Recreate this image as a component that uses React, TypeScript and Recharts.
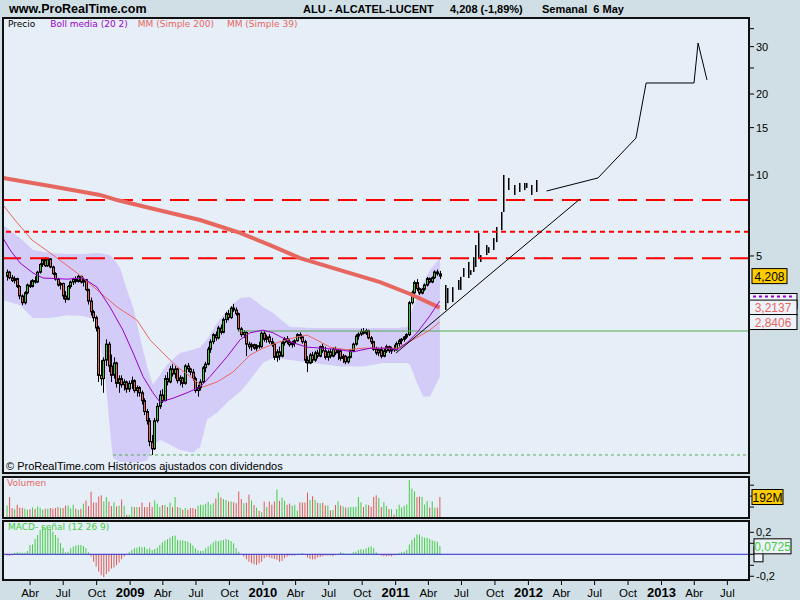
import React from 'react';
import {
  ComposedChart,
  Bar,
  Line,
  Area,
  XAxis,
  YAxis,
  ReferenceLine,
  ReferenceDot,
  Cell,
} from 'recharts';

// weekly candles [open, high, low, close], week 0 = 28 Jan 2008
const ohlc2008 = [
  [4.2, 4.45, 4.05, 4.35], [4.35, 4.4, 4.1, 4.15], [4.15, 4.25, 4.0, 4.05], [4.05, 4.2, 3.95, 4.12],
  [4.12, 4.15, 3.8, 3.85], [3.85, 3.9, 3.45, 3.55], [3.55, 3.6, 3.28, 3.35], [3.35, 3.7, 3.3, 3.65],
  [3.65, 3.95, 3.6, 3.9], [3.9, 4.05, 3.8, 3.85], [3.85, 4.1, 3.82, 4.05], [4.05, 4.2, 3.95, 4.0],
  [4.0, 4.4, 3.98, 4.35], [4.35, 4.7, 4.3, 4.65], [4.65, 4.9, 4.55, 4.85], [4.85, 4.95, 4.55, 4.6],
  [4.6, 4.92, 4.55, 4.88], [4.88, 4.9, 4.5, 4.55], [4.55, 4.6, 4.25, 4.3], [4.3, 4.35, 4.05, 4.1],
  [4.1, 4.15, 3.85, 3.9], [3.9, 4.0, 3.75, 3.95], [3.95, 3.98, 3.45, 3.55], [3.55, 3.7, 3.35, 3.45],
  [3.45, 3.9, 3.42, 3.85], [3.85, 4.05, 3.78, 4.0], [4.0, 4.15, 3.9, 4.1], [4.1, 4.2, 3.95, 4.02],
  [4.02, 4.25, 3.98, 4.2], [4.2, 4.22, 3.95, 4.0], [4.0, 4.15, 3.85, 4.08], [4.08, 4.1, 3.7, 3.75],
  [3.75, 3.78, 3.3, 3.4], [3.4, 3.5, 3.0, 3.1], [3.1, 3.15, 2.85, 2.95], [2.95, 3.0, 2.62, 2.7],
  [2.7, 2.75, 1.7, 1.8], [1.8, 2.05, 1.65, 1.75], [1.75, 2.1, 1.55, 2.05], [2.05, 2.45, 1.95, 2.35],
  [2.35, 2.4, 1.85, 1.95], [1.95, 2.15, 1.7, 1.8], [1.8, 2.1, 1.75, 2.0], [2.0, 2.02, 1.62, 1.68],
  [1.68, 1.8, 1.55, 1.75], [1.75, 1.8, 1.62, 1.66], [1.66, 1.74, 1.58, 1.7], [1.7, 1.72, 1.55, 1.6],
  [1.6, 1.72, 1.56, 1.68],
];
const ohlc2009 = [
  [1.68, 1.78, 1.6, 1.72], [1.72, 1.74, 1.55, 1.58], [1.58, 1.65, 1.5, 1.62], [1.62, 1.64, 1.5, 1.55],
  [1.55, 1.58, 1.4, 1.45], [1.45, 1.48, 1.28, 1.32], [1.32, 1.35, 1.18, 1.22], [1.22, 1.25, 0.98, 1.02],
  [1.02, 1.08, 0.91, 0.96], [0.96, 1.25, 0.95, 1.22], [1.22, 1.42, 1.2, 1.38], [1.38, 1.58, 1.35, 1.52],
  [1.52, 1.6, 1.42, 1.45], [1.45, 1.8, 1.44, 1.75], [1.75, 1.85, 1.65, 1.7], [1.7, 1.95, 1.68, 1.9],
  [1.9, 1.98, 1.78, 1.82], [1.82, 1.95, 1.75, 1.9], [1.9, 1.92, 1.68, 1.72], [1.72, 1.8, 1.65, 1.76],
  [1.76, 1.78, 1.62, 1.68], [1.68, 1.98, 1.66, 1.95], [1.95, 2.0, 1.85, 1.9], [1.9, 1.92, 1.8, 1.85],
  [1.85, 1.9, 1.72, 1.75], [1.75, 1.78, 1.55, 1.58], [1.58, 1.66, 1.5, 1.62], [1.62, 1.74, 1.58, 1.7],
  [1.7, 1.95, 1.68, 1.92], [1.92, 2.02, 1.85, 1.98], [1.98, 2.3, 1.96, 2.25], [2.25, 2.45, 2.18, 2.4],
  [2.4, 2.58, 2.35, 2.55], [2.55, 2.62, 2.42, 2.48], [2.48, 2.75, 2.45, 2.7], [2.7, 2.78, 2.55, 2.6],
  [2.6, 2.95, 2.58, 2.9], [2.9, 3.1, 2.82, 3.05], [3.05, 3.15, 2.88, 2.95], [2.95, 3.25, 2.92, 3.2],
  [3.2, 3.32, 3.1, 3.15], [3.15, 3.22, 3.0, 3.05], [3.05, 3.08, 2.62, 2.68], [2.68, 2.72, 2.5, 2.55],
  [2.55, 2.65, 2.48, 2.6], [2.6, 2.62, 2.12, 2.35], [2.35, 2.4, 2.25, 2.3], [2.3, 2.38, 2.22, 2.34],
  [2.34, 2.36, 2.24, 2.27], [2.27, 2.35, 2.22, 2.32], [2.32, 2.4, 2.26, 2.3], [2.3, 2.62, 2.28, 2.58],
];
const ohlc2010 = [
  [2.58, 2.64, 2.4, 2.45], [2.45, 2.55, 2.38, 2.5], [2.5, 2.56, 2.36, 2.4], [2.4, 2.48, 2.3, 2.35],
  [2.35, 2.38, 2.05, 2.1], [2.1, 2.25, 2.02, 2.2], [2.2, 2.3, 2.05, 2.12], [2.12, 2.42, 2.1, 2.38],
  [2.38, 2.5, 2.32, 2.46], [2.46, 2.52, 2.35, 2.4], [2.4, 2.46, 2.3, 2.34], [2.34, 2.42, 2.28, 2.38],
  [2.38, 2.45, 2.3, 2.42], [2.42, 2.58, 2.4, 2.55], [2.55, 2.6, 2.45, 2.5], [2.5, 2.52, 2.36, 2.4],
  [2.4, 2.44, 2.0, 2.05], [2.05, 2.12, 1.85, 2.0], [2.0, 2.18, 1.98, 2.14], [2.14, 2.2, 2.0, 2.05],
  [2.05, 2.22, 2.02, 2.18], [2.18, 2.24, 2.08, 2.12], [2.12, 2.32, 2.1, 2.3], [2.3, 2.36, 2.18, 2.22],
  [2.22, 2.3, 2.06, 2.1], [2.1, 2.24, 2.04, 2.2], [2.2, 2.26, 2.08, 2.12], [2.12, 2.28, 2.1, 2.25],
  [2.25, 2.3, 2.14, 2.18], [2.18, 2.26, 2.05, 2.22], [2.22, 2.24, 2.04, 2.08], [2.08, 2.16, 2.0, 2.12],
  [2.12, 2.14, 1.98, 2.02], [2.02, 2.12, 1.99, 2.1], [2.1, 2.25, 2.08, 2.22], [2.22, 2.38, 2.2, 2.35],
  [2.35, 2.56, 2.32, 2.52], [2.52, 2.6, 2.44, 2.56], [2.56, 2.68, 2.52, 2.62], [2.62, 2.7, 2.55, 2.58],
  [2.58, 2.68, 2.54, 2.64], [2.64, 2.66, 2.45, 2.48], [2.48, 2.52, 2.35, 2.4], [2.4, 2.42, 2.22, 2.25],
  [2.25, 2.3, 2.14, 2.18], [2.18, 2.28, 2.12, 2.24], [2.24, 2.3, 2.08, 2.12], [2.12, 2.26, 2.1, 2.22],
  [2.22, 2.34, 2.18, 2.3], [2.3, 2.32, 2.18, 2.22], [2.22, 2.3, 2.16, 2.26], [2.26, 2.34, 2.2, 2.24],
];
const ohlc2011 = [
  [2.24, 2.4, 2.22, 2.36], [2.36, 2.46, 2.3, 2.42], [2.42, 2.48, 2.34, 2.45], [2.45, 2.52, 2.4, 2.5],
  [2.5, 2.58, 2.46, 2.55], [2.55, 3.4, 2.52, 3.35], [3.35, 3.72, 3.3, 3.65], [3.65, 4.05, 3.6, 3.98],
  [3.98, 4.1, 3.7, 3.78], [3.78, 3.82, 3.58, 3.64], [3.64, 3.8, 3.6, 3.76], [3.76, 3.95, 3.7, 3.9],
  [3.9, 4.18, 3.85, 4.12], [4.12, 4.16, 3.95, 4.0], [4.0, 4.2, 3.96, 4.15], [4.15, 4.42, 4.1, 4.36],
  [4.36, 4.45, 4.22, 4.29], [4.29, 4.4, 4.1, 4.208],
];

// weekly volume, millions
const vol2008 = [
  115, 191, 91, 79, 121, 94, 94, 85, 76, 79, 97, 82, 106, 94, 76, 85, 85, 91, 85, 91,
  100, 91, 91, 115, 115, 85, 121, 85, 76, 85, 130, 161, 109, 239, 142, 142, 197, 209, 152, 191,
  152, 109, 142, 106, 112, 170, 112, 30, 30,
];
const vol2009 = [
  106, 100, 100, 100, 142, 100, 100, 142, 100, 161, 130, 100, 118, 118, 100, 142, 100, 191, 100, 94,
  76, 91, 76, 91, 91, 82, 112, 121, 121, 130, 148, 121, 136, 179, 233, 188, 173, 164, 152, 152,
  145, 136, 242, 173, 136, 139, 212, 161, 118, 94, 64, 52,
];
const vol2010 = [
  152, 100, 152, 121, 152, 261, 158, 188, 158, 121, 133, 112, 121, 67, 142, 142, 142, 233, 164, 200,
  164, 139, 136, 139, 115, 115, 70, 73, 118, 152, 115, 106, 97, 97, 100, 100, 100, 191, 145, 100,
  124, 118, 103, 191, 209, 182, 100, 145, 112, 82, 79, 33,
];
const vol2011 = [79, 121, 97, 112, 124, 348, 270, 245, 191, 197, 191, 124, 155, 97, 152, 97, 97, 192];

// MACD - signal histogram
const macd2008 = [
  -0.012, -0.015, -0.01, 0.015, 0.018, 0.015, 0.015, 0.015, 0.03, 0.085,
  0.09, 0.14, 0.175, 0.22, 0.25, 0.235, 0.235, 0.235, 0.205, 0.175,
  0.15, 0.1, 0.06, 0.018, 0.024, 0.055, 0.07, 0.08, 0.085, 0.085,
  0.076, 0.055, 0.018, -0.02, -0.067, -0.11, -0.16, -0.19, -0.21, -0.18,
  -0.16, -0.13, -0.12, -0.1, -0.075, -0.045, -0.02, -0.005, 0.018,
];
const macd2009 = [
  0.04, 0.055, 0.06, 0.07, 0.064, 0.067, 0.048, 0.055, 0.04, 0.048,
  0.06, 0.085, 0.11, 0.125, 0.136, 0.15, 0.167, 0.17, 0.133, 0.125,
  0.127, 0.12, 0.115, 0.1, 0.08, 0.055, 0.036, 0.03, 0.033, 0.055,
  0.07, 0.09, 0.11, 0.125, 0.12, 0.127, 0.13, 0.14, 0.13, 0.12,
  0.1, 0.055, 0.024, 0.0, -0.02, -0.045, -0.067, -0.082, -0.09, -0.097,
  -0.082, -0.067,
];
const macd2010 = [
  -0.036, -0.02, -0.03, -0.036, -0.042, -0.05, -0.067, -0.06, -0.036, -0.02,
  -0.012, -0.012, -0.012, -0.006, 0.006, 0.012, -0.006, -0.03, -0.042, -0.048,
  -0.045, -0.03, -0.024, -0.018, -0.012, -0.012, -0.012, -0.018, -0.006, 0.003,
  0.018, 0.012, 0.006, -0.006, 0.006, 0.018, 0.024, 0.04, 0.048, 0.042,
  0.055, 0.064, 0.07, 0.055, 0.018, -0.006, -0.012, -0.018, -0.018, -0.015,
  -0.018, -0.012,
];
const macd2011 = [
  -0.006, 0.012, 0.018, 0.024, 0.04, 0.09, 0.13, 0.15, 0.18, 0.18,
  0.16, 0.15, 0.15, 0.14, 0.127, 0.12, 0.115, 0.075,
];

// hand-drawn forecast bars after the last week
const projWeeks = [172, 173, 175, 177, 178, 179, 181, 182, 183, 184, 185, 186, 188, 189, 191, 192, 194, 195, 197, 199, 201, 203, 204, 206, 208];
const projHigh = [3.9, 3.8, 3.83, 4.07, 4.18, 4.51, 4.75, 4.43, 4.95, 5.49, 6.09, 5.04, 5.49, 5.39, 5.83, 6.41, 7.29, 10.0, 9.75, 9.18, 9.34, 9.34, 9.34, 9.18, 9.58];
const projLow = [3.15, 3.34, 3.37, 3.74, 3.74, 4.18, 4.14, 4.25, 4.36, 4.55, 4.91, 4.75, 5.04, 5.13, 5.26, 5.63, 6.24, 7.29, 8.79, 8.43, 8.65, 8.79, 8.95, 8.43, 8.65];

// indicator lines: [week, value]
const mm200 = [[-1.5, 9.75], [17, 9.1], [36.6, 8.43], [43.3, 8.07], [56.2, 7.54], [75.9, 6.8], [91.6, 6.09], [103.4, 5.49], [115.2, 4.91], [130.9, 4.43], [146.6, 4.0], [158.4, 3.61], [170, 3.2137]];
const mm39 = [[-1.5, 7.74], [3.2, 6.8], [9.9, 5.73], [17, 5.13], [27.6, 4.32], [35.4, 3.74], [43.3, 3.23], [51.1, 2.89], [56.2, 2.44], [61.3, 2.18], [66.8, 1.94], [72, 1.78], [77.1, 1.63], [82.6, 1.7], [88.8, 1.85], [95.5, 2.14], [100.6, 2.27], [107.3, 2.4], [114, 2.5], [117.9, 2.54], [123, 2.4], [126.9, 2.29], [133.6, 2.24], [139.9, 2.27], [146.6, 2.27], [153.3, 2.27], [159.5, 2.44], [166.2, 2.65], [170, 2.8406]];
const bollMid = [[-1.5, 5.83], [1.3, 5.26], [5.2, 4.71], [10.3, 4.32], [14.2, 4.14], [23.6, 4.1], [29.9, 4.14], [35.4, 3.83], [40.5, 3.23], [45.6, 2.65], [49.6, 2.18], [53.5, 1.78], [57.4, 1.55], [60.2, 1.43], [65.3, 1.48], [70.8, 1.55], [75.9, 1.63], [79.8, 1.78], [86.5, 2.11], [91.6, 2.44], [95.5, 2.59], [100.6, 2.65], [104.6, 2.59], [111.2, 2.4], [117.9, 2.29], [124.2, 2.27], [130.9, 2.24], [136, 2.2], [142.7, 2.27], [149.3, 2.27], [153.3, 2.24], [157.2, 2.38], [161.1, 2.59], [166.2, 3.0], [170, 3.4]];
// Bollinger band: [week, lower, upper]
const bollBand = [[-1.5, 3.43, 6.52], [5.2, 3.28, 5.83], [10.3, 2.94, 5.26], [17, 2.94, 5.13], [23.6, 3.01, 5.09], [29.9, 2.99, 5.09], [35.4, 2.89, 5.13], [38.6, 1.81, 5.09], [40.5, 1.13, 5.04], [41.7, 0.887, 4.91], [44.5, 0.857, 4.51], [47.2, 0.857, 3.74], [49.6, 0.857, 3.23], [52.3, 0.857, 2.5], [55.1, 0.87, 1.94], [57.4, 0.99, 1.66], [60.2, 1.035, 1.81], [62.9, 1.009, 1.97], [68, 0.95, 2.18], [73.1, 0.93, 2.24], [75.9, 0.975, 2.29], [78.6, 1.23, 2.44], [82.6, 1.31, 2.82], [87.7, 1.46, 3.23], [91.6, 1.56, 3.49], [95.5, 1.73, 3.52], [100.6, 2.0, 3.23], [104.6, 2.09, 3.07], [111.2, 2.05, 2.72], [120.3, 2.0, 2.7], [130.9, 1.94, 2.7], [139.9, 1.94, 2.7], [147.8, 2.0, 2.7], [153.3, 2.0, 2.7], [157.2, 2.0, 2.72], [158.4, 1.97, 3.01], [161.1, 1.69, 3.52], [163.5, 1.5, 3.97], [166.2, 1.5, 4.43], [168.9, 1.69, 4.75], [170.1, 1.78, 4.91]];
const trendLine = [[152.9, 2.18], [225.1, 8.14]];
const projLine = [[212, 8.72], [232.2, 9.75], [247.1, 13.72], [251.1, 21.98], [269.9, 21.98], [271.5, 30.95], [275, 22.56]];

const tickDates = ['2008-04-01', '2008-07-01', '2008-10-01', '2009-01-01', '2009-04-01', '2009-07-01', '2009-10-01', '2010-01-01', '2010-04-01', '2010-07-01', '2010-10-01', '2011-01-01', '2011-04-01', '2011-07-01', '2011-10-01', '2012-01-01', '2012-04-01', '2012-07-01', '2012-10-01', '2013-01-01', '2013-04-01', '2013-07-01'];
const tickLabels = ['Abr', 'Jul', 'Oct', '2009', 'Abr', 'Jul', 'Oct', '2010', 'Abr', 'Jul', 'Oct', '2011', 'Abr', 'Jul', 'Oct', '2012', 'Abr', 'Jul', 'Oct', '2013', 'Abr', 'Jul'];

const START = Date.UTC(2008, 0, 28);
const toWeek = (s: string) => (Date.parse(s) - START) / (7 * 86400000);
const tickWeeks = tickDates.map(toWeek);

const ohlc = [...ohlc2008, ...ohlc2009, ...ohlc2010, ...ohlc2011];
const volume = [...vol2008, ...vol2009, ...vol2010, ...vol2011];
const macd = [...macd2008, ...macd2009, ...macd2010, ...macd2011];

const rows = Array.from({ length: 209 }, (_, w) => {
  const k = ohlc[w];
  const p = projWeeks.indexOf(w);
  return {
    w,
    range: k ? [k[2], k[1]] : null,
    o: k ? k[0] : null,
    h: k ? k[1] : null,
    l: k ? k[2] : null,
    c: k ? k[3] : null,
    vol: w < volume.length ? volume[w] : null,
    macd: w < macd.length ? macd[w] : null,
    proj: p >= 0 ? [projLow[p], projHigh[p]] : null,
  };
});

const pts = (a: number[][]) => a.map(([w, v]) => ({ w, v }));
const bandPts = bollBand.map(([w, lo, hi]) => ({ w, r: [lo, hi] }));

const BG = '#d0dfe6';
const PANEL = '#e6eef7';
const UP = '#33cc33';
const DOWN = '#e5625a';
const MM = '#e8675f';
const PURPLE = '#9900cc';
const SANS = '"Liberation Sans", Arial, sans-serif';
const SMALL = '"DejaVu Sans", Verdana, sans-serif';
const X_DOMAIN = [-1.5, 291.5];

const Candle = (props: any) => {
  const { x, y, width, height, payload } = props;
  if (payload.o == null) return null;
  const top = Math.min(y, y + height);
  const bot = Math.max(y, y + height);
  const lh = Math.log(payload.h);
  const ll = Math.log(payload.l);
  const py = (v: number) => top + ((bot - top) * (lh - Math.log(v))) / (lh - ll);
  const cx = Math.round(x + width / 2) + 0.5;
  const yo = py(payload.o);
  const yc = py(payload.c);
  const up = payload.c >= payload.o;
  return (
    <g>
      <line x1={cx} x2={cx} y1={top} y2={bot} stroke="#000" strokeWidth={1} />
      <rect x={cx - 1} y={Math.min(yo, yc)} width={2} height={Math.max(Math.abs(yc - yo), 1)} fill={up ? UP : DOWN} stroke="#000" strokeWidth={1} />
    </g>
  );
};

const ProjBar = (props: any) => {
  const { x, y, width, height } = props;
  const cx = Math.round(x + width / 2);
  return <rect x={cx} y={Math.min(y, y + height)} width={1.5} height={Math.abs(height)} fill="#000" />;
};

const valueBox = (text: string, fill: string, color: string, w: number, dx = 3) => (p: any) => (
  <g>
    <rect x={p.cx + dx} y={p.cy - 7.5} width={w} height={15} fill={fill} stroke="#000" strokeWidth={1} />
    <text x={p.cx + dx + w / 2} y={p.cy + 4.5} textAnchor="middle" fontSize={12} fill={color} fontFamily={SANS}>
      {text}
    </text>
  </g>
);

// boxes that sit behind another label: only their top edge shows
const hiddenBox = (color: string, w: number, dx = 0) => (p: any) => (
  <g>
    <rect x={p.cx + dx} y={p.cy - 7.5} width={w} height={15} fill="#eef3fa" stroke="#000" strokeWidth={1} />
    <line x1={p.cx + dx + 4} x2={p.cx + dx + w - 4} y1={p.cy - 4.5} y2={p.cy - 4.5} stroke={color} strokeWidth={2} strokeDasharray="3 3" />
  </g>
);

const MonthTick = (props: any) => {
  const { x, y, payload } = props;
  let best = 0;
  tickWeeks.forEach((t, i) => {
    if (Math.abs(t - payload.value) < Math.abs(tickWeeks[best] - payload.value)) best = i;
  });
  const lab = tickLabels[best];
  const year = /^\d/.test(lab);
  return (
    <text x={x} y={y + 10} textAnchor="middle" fontFamily={SANS} fontSize={year ? 13 : 11.5} fontWeight={year ? 700 : 400} fill="#000">
      {lab}
    </text>
  );
};

const abs = (l: number, t: number, extra: React.CSSProperties = {}): React.CSSProperties => ({ position: 'absolute', left: l, top: t, ...extra });

export default function App() {
  return (
    <div style={{ position: 'absolute', left: 0, top: 0, width: 800, height: 600, background: BG, overflow: 'hidden', fontFamily: SANS }}>
      {/* panel backgrounds */}
      <div style={abs(3, 18, { width: 746, height: 455, background: PANEL })} />
      <div style={abs(3, 477, { width: 746, height: 41, background: PANEL })} />
      <div style={abs(3, 521, { width: 746, height: 59, background: PANEL })} />

      {/* price panel */}
      <div style={abs(0, 18, { zIndex: 1 })}>
        <ComposedChart width={800} height={455} data={rows} margin={{ top: 0, right: 0, bottom: 0, left: 3 }}>
          <XAxis type="number" dataKey="w" domain={X_DOMAIN} allowDataOverflow hide />
          <YAxis
            orientation="right"
            scale="log"
            domain={[0.78, 38.34]}
            allowDataOverflow
            ticks={[5, 10, 15, 20, 25, 30, 35]}
            interval={0}
            tickFormatter={(v: number) => ([5, 10, 15, 20, 30].includes(v) ? String(v) : '')}
            width={51}
            axisLine={false}
            tickSize={5}
            tickMargin={2}
            tickLine={{ stroke: '#000' }}
            tick={{ fill: '#000', fontSize: 11, fontFamily: SANS }}
          />
          <Area data={bandPts} dataKey="r" type="linear" fill="#d3cbf8" fillOpacity={1} stroke="none" isAnimationActive={false} />
          <ReferenceLine y={8.07} stroke="#ff0000" strokeWidth={2} strokeDasharray="19 9" />
          <ReferenceLine y={6.155} stroke="#ff0000" strokeWidth={2} strokeDasharray="5 4" />
          <ReferenceLine y={4.9} stroke="#ff0000" strokeWidth={2} strokeDasharray="19 9" />
          <ReferenceLine segment={[{ x: 90.8, y: 2.63 }, { x: 291.5, y: 2.63 }]} stroke="#55aa55" strokeWidth={1} />
          <ReferenceLine segment={[{ x: 41.7, y: 0.91 }, { x: 291.5, y: 0.91 }]} stroke="#55aa55" strokeWidth={1} strokeDasharray="3 3" />
          <Line data={pts(mm200)} dataKey="v" type="linear" stroke="#e6675f" strokeWidth={4} dot={false} isAnimationActive={false} />
          <Line data={pts(mm39)} dataKey="v" type="linear" stroke={MM} strokeWidth={1} dot={false} isAnimationActive={false} />
          <Line data={pts(bollMid)} dataKey="v" type="linear" stroke={PURPLE} strokeWidth={1} dot={false} isAnimationActive={false} />
          <Bar dataKey="range" barSize={3} shape={<Candle />} isAnimationActive={false} />
          <Bar dataKey="proj" barSize={3} shape={<ProjBar />} isAnimationActive={false} />
          <Line data={pts(trendLine)} dataKey="v" type="linear" stroke="#000" strokeWidth={1} dot={false} isAnimationActive={false} />
          <Line data={pts(projLine)} dataKey="v" type="linear" stroke="#000" strokeWidth={1} dot={false} isAnimationActive={false} />
          <ReferenceDot x={291.5} y={3.4} r={0} ifOverflow="visible" shape={hiddenBox(PURPLE, 48)} />
          <ReferenceDot x={291.5} y={3.2137} r={0} ifOverflow="visible" shape={valueBox('3,2137', '#eef3fa', MM, 48, 0)} />
          <ReferenceDot x={291.5} y={2.8406} r={0} ifOverflow="visible" shape={valueBox('2,8406', '#eef3fa', MM, 48, 0)} />
          <ReferenceDot x={291.5} y={4.208} r={0} ifOverflow="visible" shape={valueBox('4,208', '#ffcc00', '#000', 35)} />
        </ComposedChart>
      </div>

      {/* volume panel */}
      <div style={abs(0, 477, { zIndex: 1 })}>
        <ComposedChart width={800} height={41} data={rows} margin={{ top: 0, right: 0, bottom: 0, left: 3 }}>
          <XAxis type="number" dataKey="w" domain={X_DOMAIN} allowDataOverflow hide />
          <YAxis
            orientation="right"
            domain={[0, 375]}
            allowDataOverflow
            ticks={[100, 200, 300]}
            interval={0}
            tickFormatter={() => ''}
            width={51}
            axisLine={false}
            tickSize={5}
            tickLine={{ stroke: '#000' }}
          />
          <Bar dataKey="vol" barSize={1} isAnimationActive={false}>
            {rows.map((r) => (
              <Cell key={r.w} fill={r.c != null && r.o != null && r.c >= r.o ? '#44cc44' : '#e05a55'} />
            ))}
          </Bar>
          <ReferenceDot x={291.5} y={192} r={0} ifOverflow="visible" shape={valueBox('192M', '#ffcc00', '#000', 31)} />
        </ComposedChart>
      </div>

      {/* MACD panel */}
      <div style={abs(0, 521, { zIndex: 1 })}>
        <ComposedChart width={800} height={79} data={rows} margin={{ top: 0, right: 0, bottom: 0, left: 3 }}>
          <XAxis
            type="number"
            dataKey="w"
            domain={X_DOMAIN}
            allowDataOverflow
            ticks={tickWeeks}
            interval={0}
            height={20}
            axisLine={false}
            tickSize={5}
            tickMargin={2}
            tickLine={{ stroke: '#000' }}
            tick={<MonthTick />}
          />
          <YAxis
            orientation="right"
            domain={[-0.234, 0.303]}
            allowDataOverflow
            ticks={[-0.2, -0.1, 0, 0.1, 0.2]}
            interval={0}
            tickFormatter={(v: number) => (v === 0.2 ? '0,2' : v === -0.2 ? '-0,2' : '')}
            width={51}
            axisLine={false}
            tickSize={5}
            tickMargin={2}
            tickLine={{ stroke: '#000' }}
            tick={{ fill: '#000', fontSize: 11, fontFamily: SANS }}
          />
          <ReferenceLine y={0} stroke="#2a2acc" strokeWidth={1} />
          <Bar dataKey="macd" barSize={1} isAnimationActive={false}>
            {rows.map((r) => (
              <Cell key={r.w} fill={r.macd != null && r.macd >= 0 ? '#44cc44' : '#e05a55'} />
            ))}
          </Bar>
          <ReferenceDot x={291.5} y={0} r={0} ifOverflow="visible" shape={hiddenBox('#2a2acc', 9, 5)} />
          <ReferenceDot x={291.5} y={0.0725} r={0} ifOverflow="visible" shape={valueBox('0,0725', '#eef3fa', '#44cc44', 37, 5)} />
        </ComposedChart>
      </div>

      {/* panel borders */}
      <div style={abs(2, 17, { width: 748, height: 457, border: '2px solid #111', boxSizing: 'border-box', zIndex: 2, pointerEvents: 'none' })} />
      <div style={abs(2, 476, { width: 748, height: 43, border: '2px solid #111', boxSizing: 'border-box', zIndex: 2, pointerEvents: 'none' })} />
      <div style={abs(2, 520, { width: 748, height: 61, border: '2px solid #111', boxSizing: 'border-box', zIndex: 2, pointerEvents: 'none' })} />

      {/* header */}
      <div style={abs(9, 2, { fontSize: 12.5, fontWeight: 700, color: '#000', zIndex: 3 })}>www.ProRealTime.com</div>
      <div style={abs(303, 3, { fontSize: 11, fontWeight: 700, color: '#000', zIndex: 3, whiteSpace: 'pre' })}>ALU - ALCATEL-LUCENT</div>
      <div style={abs(450, 3, { fontSize: 11, fontWeight: 700, color: '#000', zIndex: 3, whiteSpace: 'pre' })}>4,208 (-1,89%)</div>
      <div style={abs(542, 3, { fontSize: 11, fontWeight: 700, color: '#000', zIndex: 3, whiteSpace: 'pre' })}>Semanal  6 May</div>

      {/* legends */}
      <div style={abs(8, 19, { fontSize: 9, fontFamily: SMALL, zIndex: 3, whiteSpace: 'pre' })}>
        <span style={{ color: '#000' }}>Precio</span>
        <span style={{ color: PURPLE, marginLeft: 15 }}>Boll media (20 2)</span>
        <span style={{ color: MM, marginLeft: 10 }}>MM (Simple 200)</span>
        <span style={{ color: MM, marginLeft: 13 }}>MM (Simple 39)</span>
      </div>
      <div style={abs(6, 460, { fontSize: 11, color: '#000', zIndex: 3, whiteSpace: 'pre' })}>© ProRealTime.com Históricos ajustados con dividendos</div>
      <div style={abs(7, 478, { fontSize: 9, fontFamily: SMALL, color: MM, zIndex: 3 })}>Volumen</div>
      <div style={abs(8, 522, { fontSize: 9, fontFamily: SMALL, color: '#44cc44', zIndex: 0 })}>MACD- señal (12 26 9)</div>
    </div>
  );
}
